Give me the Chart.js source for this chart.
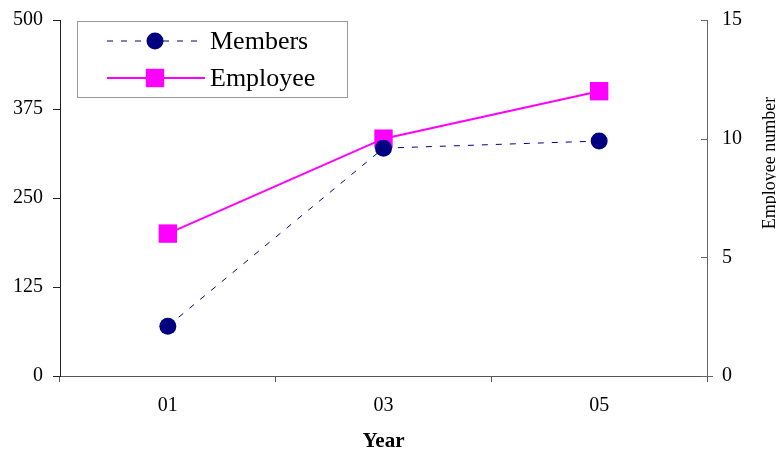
<!DOCTYPE html>
<html>
<head>
<meta charset="utf-8">
<script src="https://cdn.jsdelivr.net/npm/chart.js@4/dist/chart.umd.min.js"></script>
<style>
  body { margin: 0; background: #fff; }
  #wrap { width: 776px; height: 454px; }
</style>
</head>
<body>
<div id="wrap"><canvas id="grafico" width="776" height="454"></canvas></div>
<script>
// Dados do gráfico
const anos = ['01', '03', '05'];
const membros = [70, 320, 330];
const funcionarios = [6, 10, 12];
const ticksEsquerda = [0, 125, 250, 375, 500];
const ticksDireita = [0, 5, 10, 15];

const fonte = '"Liberation Serif", "Times New Roman", serif';

// Legenda desenhada dentro da área do gráfico
const legendaCaixa = {
    id: 'legendaCaixa',
    afterDraw(chart) {
        const ctx = chart.ctx;
        const x0 = 77, y0 = 21, w = 270, h = 76;
        ctx.save();
        ctx.fillStyle = '#fff';
        ctx.fillRect(x0, y0, w, h);
        ctx.strokeStyle = '#9a9a9a';
        ctx.lineWidth = 1;
        ctx.strokeRect(x0 + 0.5, y0 + 0.5, w, h);
        const linhas = [41, 78];
        chart.data.datasets.forEach((ds, i) => {
            const y = linhas[i];
            ctx.strokeStyle = ds.borderColor;
            ctx.lineWidth = ds.borderWidth;
            ctx.setLineDash(ds.borderDash || []);
            ctx.beginPath();
            ctx.moveTo(107, y);
            ctx.lineTo(205, y);
            ctx.stroke();
            ctx.setLineDash([]);
            ctx.fillStyle = ds.pointBackgroundColor;
            ctx.strokeStyle = ds.pointBackgroundColor;
            Chart.helpers.drawPoint(ctx, {
                pointStyle: ds.pointStyle,
                radius: ds.pointRadius,
                rotation: 0,
                borderWidth: 0
            }, 155, y);
            ctx.fillStyle = '#000';
            ctx.font = '26px ' + fonte;
            ctx.textBaseline = 'middle';
            ctx.textAlign = 'left';
            ctx.fillText(ds.label, 210, y + 1);
        });
        ctx.restore();
    }
};

// Marcas do eixo direito (para dentro) e título girado
const eixoDireito = {
    id: 'eixoDireito',
    afterDraw(chart) {
        const ctx = chart.ctx;
        const s = chart.scales.y1;
        ctx.save();
        ctx.strokeStyle = '#666';
        ctx.lineWidth = 1;
        s.ticks.forEach((t, i) => {
            const y = Math.round(s.getPixelForTick(i)) + 0.5;
            ctx.beginPath();
            ctx.moveTo(s.left - 6, y);
            ctx.lineTo(s.left + (i === 0 ? 6 : 0), y);
            ctx.stroke();
        });
        ctx.translate(775, 163);
        ctx.rotate(-Math.PI / 2);
        ctx.fillStyle = '#000';
        ctx.font = '18px ' + fonte;
        ctx.textAlign = 'center';
        ctx.textBaseline = 'alphabetic';
        ctx.fillText('Employee number', 0, 0);
        ctx.restore();
    }
};

function semPaddingVertical(scale) {
    scale.paddingTop = 0;
    scale.paddingBottom = 0;
}

new Chart(document.getElementById('grafico').getContext('2d'), {
    type: 'line',
    data: {
        labels: anos,
        datasets: [{
            label: 'Members',
            data: membros,
            yAxisID: 'y',
            borderColor: '#000080',
            borderWidth: 1,
            borderDash: [6, 8],
            pointStyle: 'circle',
            pointRadius: 8.5,
            pointBackgroundColor: '#000080',
            pointBorderColor: '#000080',
            pointBorderWidth: 0,
            tension: 0
        }, {
            label: 'Employee',
            data: funcionarios,
            yAxisID: 'y1',
            borderColor: '#ff00ff',
            borderWidth: 2,
            pointStyle: 'rect',
            pointRadius: 13,
            pointBackgroundColor: '#ff00ff',
            pointBorderColor: '#ff00ff',
            pointBorderWidth: 0,
            tension: 0
        }]
    },
    options: {
        responsive: false,
        animation: false,
        layout: { padding: { top: 20, right: 0, bottom: 0, left: 0 } },
        plugins: {
            legend: { display: false },
            tooltip: { enabled: false }
        },
        scales: {
            x: {
                offset: true,
                grid: {
                    offset: true,
                    drawOnChartArea: false,
                    tickLength: 6,
                    color: '#555'
                },
                border: { color: '#555', width: 1 },
                ticks: {
                    color: '#000',
                    padding: 12,
                    font: { family: fonte, size: 20 }
                },
                title: {
                    display: true,
                    text: 'Year',
                    color: '#000',
                    padding: { top: 4, bottom: 0 },
                    font: { family: fonte, size: 21, weight: 'bold' }
                },
                afterFit(scale) {
                    scale.height = 78;
                    scale.paddingLeft = 0;
                    scale.paddingRight = 0;
                }
            },
            y: {
                position: 'left',
                min: 0,
                max: 500,
                afterBuildTicks(scale) {
                    scale.ticks = ticksEsquerda.map(v => ({ value: v }));
                },
                grid: {
                    drawOnChartArea: false,
                    tickLength: 7,
                    color: '#222'
                },
                border: { color: '#222', width: 1 },
                ticks: {
                    color: '#000',
                    padding: 10,
                    font: { family: fonte, size: 20 }
                },
                afterFit(scale) {
                    scale.width = 60;
                    semPaddingVertical(scale);
                }
            },
            y1: {
                position: 'right',
                min: 0,
                max: 15,
                afterBuildTicks(scale) {
                    scale.ticks = ticksDireita.map(v => ({ value: v }));
                },
                grid: {
                    drawOnChartArea: false,
                    drawTicks: false,
                    tickLength: 0
                },
                border: { color: '#666', width: 1 },
                ticks: {
                    color: '#000',
                    padding: 15,
                    font: { family: fonte, size: 20 }
                },
                afterFit(scale) {
                    scale.width = 69;
                    semPaddingVertical(scale);
                }
            }
        }
    },
    plugins: [legendaCaixa, eixoDireito]
});
</script>
</body>
</html>
